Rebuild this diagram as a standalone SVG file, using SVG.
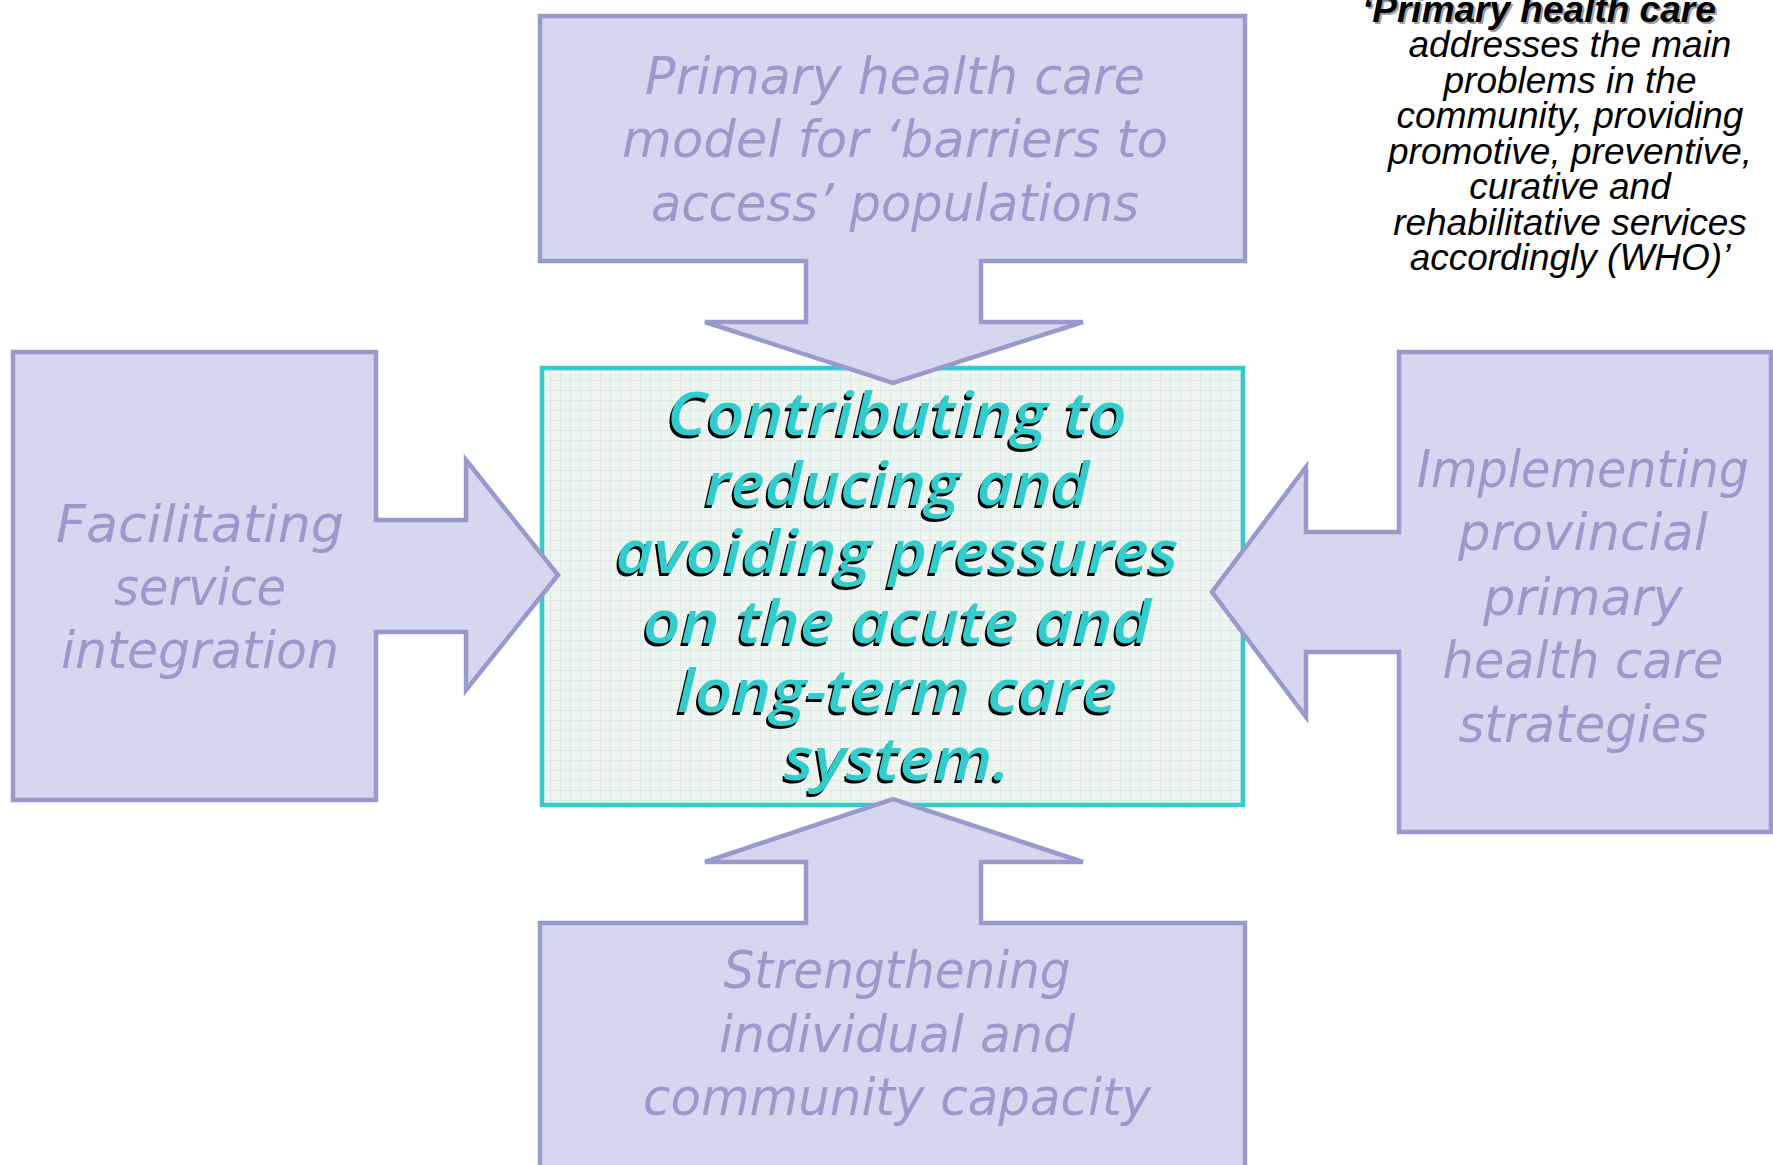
<svg xmlns="http://www.w3.org/2000/svg" xmlns:xlink="http://www.w3.org/1999/xlink" width="1773" height="1165" viewBox="0 0 1773 1165">
<defs>
<style>
.callout{fill:#D6D6F0;stroke:#9999CC;stroke-width:4.5;stroke-linejoin:miter}
.ctext{font-family:"DejaVu Sans","Verdana",sans-serif;font-style:italic;font-size:51px;fill:#9999CC;text-anchor:middle}
.main{font-family:"Open Sans","DejaVu Sans",sans-serif;font-style:italic;font-weight:600;font-size:60px;text-anchor:middle}
.who{font-family:"Liberation Sans",Arial,sans-serif;font-style:italic;font-size:37px;fill:#000;text-anchor:middle}
.whob{font-family:"Liberation Sans",Arial,sans-serif;font-style:italic;font-weight:bold;font-size:37px}
</style>
<pattern id="grid" x="0" y="0" width="10" height="10" patternUnits="userSpaceOnUse">
<rect width="10" height="10" fill="#EEF5F0"/>
<path d="M0,0.5 H10 M0.5,0 V10" stroke="#DCEAE3" stroke-width="1" fill="none"/>
</pattern>
<g id="maintext" class="main">
<text x="897" y="435" textLength="460" lengthAdjust="spacingAndGlyphs">Contributing to</text>
<text x="897" y="505" textLength="385" lengthAdjust="spacingAndGlyphs">reducing and</text>
<text x="897" y="573" textLength="563" lengthAdjust="spacingAndGlyphs">avoiding pressures</text>
<text x="897" y="643" textLength="508" lengthAdjust="spacingAndGlyphs">on the acute and</text>
<text x="897" y="712" textLength="440" lengthAdjust="spacingAndGlyphs">long-term care</text>
<text x="897" y="780" textLength="226" lengthAdjust="spacingAndGlyphs">system.</text>
</g>
</defs>
<rect width="1773" height="1165" fill="#FFFFFF"/>

<g id="center">
<rect x="542" y="368" width="701" height="437" fill="url(#grid)" stroke="#33CCCC" stroke-width="4.5"/>
<use xlink:href="#maintext" href="#maintext" fill="#000000" transform="translate(-2,2.5)"/>
<use xlink:href="#maintext" href="#maintext" fill="#33CCCC"/>
</g>

<g id="connectors">
</g>

<g id="top">
<path class="callout" d="M540,16 H1245 V261 H981 V322 H1083 L893,383 L705,322 H806 V261 H540 Z"/>
<text class="ctext" x="895" y="94" textLength="500" lengthAdjust="spacingAndGlyphs">Primary health care</text>
<text class="ctext" x="895" y="157" textLength="546" lengthAdjust="spacingAndGlyphs">model for ‘barriers to</text>
<text class="ctext" x="895" y="221" textLength="488" lengthAdjust="spacingAndGlyphs">access’ populations</text>
</g>

<g id="left">
<path class="callout" d="M13,352 H376 V520 H466 V460 L558,575 L466,690 V632 H376 V800 H13 Z"/>
<text class="ctext" x="200" y="542" textLength="288" lengthAdjust="spacingAndGlyphs">Facilitating</text>
<text class="ctext" x="200" y="605" textLength="172" lengthAdjust="spacingAndGlyphs">service</text>
<text class="ctext" x="200" y="668" textLength="278" lengthAdjust="spacingAndGlyphs">integration</text>
</g>

<g id="right">
<path class="callout" d="M1399,352 H1771 V832 H1399 V652 H1306 V717 L1212,592 L1306,467 V532 H1399 Z"/>
<text class="ctext" x="1583" y="487" textLength="332" lengthAdjust="spacingAndGlyphs">Implementing</text>
<text class="ctext" x="1583" y="550" textLength="250" lengthAdjust="spacingAndGlyphs">provincial</text>
<text class="ctext" x="1583" y="615" textLength="200" lengthAdjust="spacingAndGlyphs">primary</text>
<text class="ctext" x="1583" y="678" textLength="281" lengthAdjust="spacingAndGlyphs">health care</text>
<text class="ctext" x="1583" y="742" textLength="249" lengthAdjust="spacingAndGlyphs">strategies</text>
</g>

<g id="bottom">
<path class="callout" d="M540,1175 V923 H806 V862 H705 L893,799 L1083,862 H981 V923 H1245 V1175 Z"/>
<text class="ctext" x="897" y="988" textLength="347" lengthAdjust="spacingAndGlyphs">Strengthening</text>
<text class="ctext" x="897" y="1052" textLength="356" lengthAdjust="spacingAndGlyphs">individual and</text>
<text class="ctext" x="897" y="1115" textLength="508" lengthAdjust="spacingAndGlyphs">community capacity</text>
</g>

<g id="who-quote">
<text class="whob" x="1362" y="22" fill="#A0A0A0" transform="translate(2,2)">‘Primary health care</text>
<text class="whob" x="1362" y="22" fill="#000">‘Primary health care</text>
<text class="who" x="1570" y="57">addresses the main</text>
<text class="who" x="1570" y="92.5">problems in the</text>
<text class="who" x="1570" y="128">community, providing</text>
<text class="who" x="1570" y="163.5">promotive, preventive,</text>
<text class="who" x="1570" y="199">curative and</text>
<text class="who" x="1570" y="234.5">rehabilitative services</text>
<text class="who" x="1570" y="270">accordingly (WHO)’</text>
</g>
</svg>
